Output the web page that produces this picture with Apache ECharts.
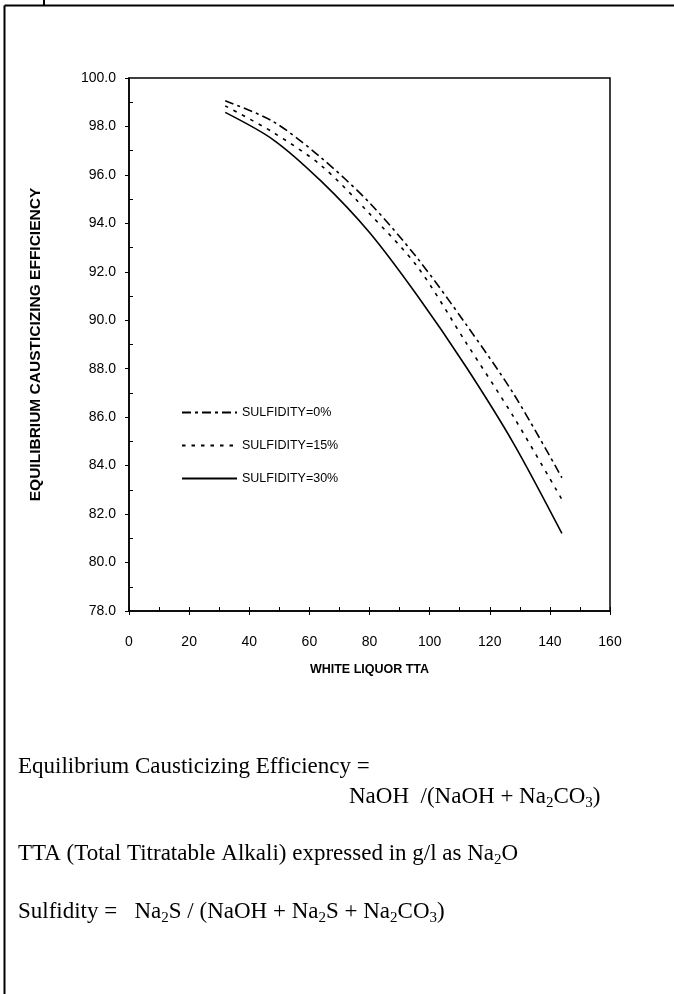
<!DOCTYPE html>
<html>
<head>
<meta charset="utf-8">
<script src="https://cdn.jsdelivr.net/npm/echarts@6/dist/echarts.min.js"></script>
<style>
    html, body { margin: 0; padding: 0; background: #fff; }
    #chart { width: 674px; height: 994px; }
</style>
</head>
<body>
<div id="chart"></div>
<script>

// Data
// ------------------------------

var tta = [32, 48, 64, 80, 96, 112, 128, 144];
var eff0 = [99.06, 98.2, 96.7, 94.85, 92.55, 89.85, 86.95, 83.5];
var eff15 = [98.85, 97.75, 96.38, 94.4, 92.2, 89.1, 86.0, 82.6];
var eff30 = [98.58, 97.45, 95.73, 93.62, 91.0, 88.1, 84.9, 81.2];
var seriesNames = ['SULFIDITY=0%', 'SULFIDITY=15%', 'SULFIDITY=30%'];

var xMin = 0, xMax = 160, xStep = 20, xMinorStep = 10;
var yMin = 78, yMax = 100, yStep = 2;

var noteLines = [
    'Equilibrium Causticizing Efficiency =',
    'NaOH  /(NaOH + Na{s|2}CO{s|3})',
    'TTA (Total Titratable Alkali) expressed in g/l as Na{s|2}O',
    'Sulfidity =   Na{s|2}S / (NaOH + Na{s|2}S + Na{s|2}CO{s|3})'
];


// Helpers
// ------------------------------

var pairs = function(xs, ys) {
    return xs.map(function(x, i) { return [x, ys[i]]; });
};

// minor ticks between the labelled ones on the y axis
var yMinorTicks = [];
for (var v = yMin + yStep / 2; v < yMax; v += yStep) {
    yMinorTicks.push(v);
}

var sansFont = '"Liberation Sans", Arial, sans-serif';
var serifFont = '"Liberation Serif", "Times New Roman", serif';

var noteText = function(text, x, y) {
    return {
        type: 'text',
        x: x,
        y: y,
        style: {
            text: text,
            fontFamily: serifFont,
            fontSize: 23,
            lineHeight: 28,
            fill: '#000',
            verticalAlign: 'middle',
            rich: {
                s: {
                    fontFamily: serifFont,
                    fontSize: 15,
                    lineHeight: 15,
                    verticalAlign: 'bottom'
                }
            }
        }
    };
};

var lineSeries = function(name, ys, dash) {
    return {
        name: name,
        type: 'line',
        data: pairs(tta, ys),
        symbol: 'none',
        smooth: 0.3,
        lineStyle: {
            color: '#000',
            width: 1.6,
            type: dash
        },
        itemStyle: { color: '#000' }
    };
};


// Chart
// ------------------------------

var chart = echarts.init(document.getElementById('chart'));

chart.setOption({
    animation: false,
    textStyle: { fontFamily: sansFont },

    grid: {
        left: 129,
        top: 78,
        width: 481,
        height: 533,
        show: true,
        borderColor: '#000',
        borderWidth: 1.5,
        containLabel: false,
        outerBoundsMode: 'none'
    },

    legend: {
        data: seriesNames,
        orient: 'vertical',
        left: 176,
        top: 401,
        itemWidth: 55,
        itemHeight: 14,
        itemGap: 20,
        selectedMode: false,
        // line samples only, no marker in the middle
        itemStyle: { opacity: 0 },
        textStyle: {
            color: '#000',
            fontSize: 12.5,
            fontFamily: sansFont
        }
    },

    xAxis: [{
        type: 'value',
        min: xMin,
        max: xMax,
        interval: xStep,
        position: 'bottom',
        name: 'WHITE LIQUOR TTA',
        nameLocation: 'middle',
        nameGap: 52,
        nameTextStyle: {
            color: '#000',
            fontSize: 12.5,
            fontWeight: 'bold',
            fontFamily: sansFont
        },
        axisLine: { lineStyle: { color: '#000', width: 1.5 } },
        axisTick: { show: true, length: 4, lineStyle: { color: '#000' } },
        axisLabel: { color: '#000', fontSize: 14, margin: 24 },
        splitLine: { show: false }
    }, {
        type: 'value',
        min: xMin,
        max: xMax,
        interval: xMinorStep,
        position: 'bottom',
        axisLine: { show: false },
        axisTick: { show: true, inside: true, length: 4, lineStyle: { color: '#000' } },
        axisLabel: { show: false },
        splitLine: { show: false }
    }],

    yAxis: [{
        type: 'value',
        min: yMin,
        max: yMax,
        interval: yStep,
        position: 'left',
        name: 'EQUILIBRIUM CAUSTICIZING EFFICIENCY',
        nameLocation: 'middle',
        nameGap: 85,
        nameTextStyle: {
            color: '#000',
            fontSize: 15.5,
            fontWeight: 'bold',
            fontFamily: sansFont
        },
        axisLine: { lineStyle: { color: '#000', width: 1.5 } },
        axisTick: { show: true, length: 4, lineStyle: { color: '#000' } },
        axisLabel: {
            color: '#000',
            fontSize: 14,
            margin: 13,
            formatter: function(val) { return val.toFixed(1); }
        },
        splitLine: { show: false }
    }, {
        type: 'value',
        min: yMin,
        max: yMax,
        position: 'left',
        axisLine: { show: false },
        axisTick: {
            show: true,
            inside: true,
            length: 4,
            customValues: yMinorTicks,
            lineStyle: { color: '#000' }
        },
        axisLabel: { show: false },
        splitLine: { show: false }
    }],

    series: [
        lineSeries(seriesNames[0], eff0, [9, 4, 3, 4]),
        lineSeries(seriesNames[1], eff15, [3.5, 6]),
        lineSeries(seriesNames[2], eff30, 'solid')
    ],

    graphic: [
        // page frame
        { type: 'line', shape: { x1: 4.5, y1: 5.5, x2: 4.5, y2: 994 }, style: { stroke: '#000', lineWidth: 2 } },
        { type: 'line', shape: { x1: 4.5, y1: 5.5, x2: 674, y2: 5.5 }, style: { stroke: '#000', lineWidth: 2 } },
        { type: 'rect', shape: { x: 43, y: 0, width: 2, height: 6 }, style: { fill: '#000' } },

        // notes under the chart
        noteText(noteLines[0], 18, 767),
        noteText(noteLines[1], 349, 797),
        noteText(noteLines[2], 18, 854),
        noteText(noteLines[3], 18, 912)
    ]
});

</script>
</body>
</html>
